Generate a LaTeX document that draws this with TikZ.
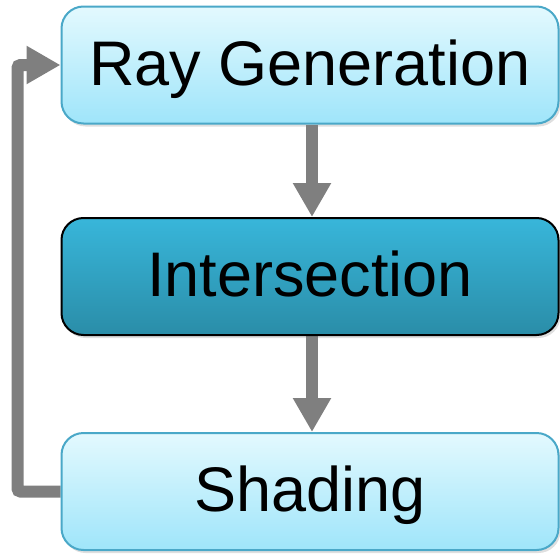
\documentclass[tikz,border=0pt]{standalone}
\usepackage{fontspec}
\setmainfont{Liberation Sans}
\usetikzlibrary{arrows.meta,shadows,backgrounds}
\definecolor{paletop}{HTML}{E3F9FE}
\definecolor{palebot}{HTML}{9FE5FA}
\definecolor{paleedge}{HTML}{4AA8C8}
\definecolor{deeptop}{HTML}{38B6DA}
\definecolor{deepbot}{HTML}{2A8DA8}
\definecolor{flowgrey}{HTML}{7F7F7F}
\tikzset{
  stage/.style={rectangle, rounded corners=22pt, minimum width=497pt, minimum height=117pt,
    line width=2pt, font=\fontsize{63}{70}\selectfont, text height=45pt, text depth=5pt,
    drop shadow={opacity=0.25, shadow xshift=2pt, shadow yshift=-3pt}},
  pale/.style={stage, draw=paleedge, top color=paletop, bottom color=palebot},
  deep/.style={stage, draw=black, top color=deeptop, bottom color=deepbot},
  flow/.style={draw=flowgrey, line width=12pt,
    -{Triangle[width=36pt,length=34pt]}}
}
\begin{document}
\begin{tikzpicture}[x=1pt,y=-1pt]
  \useasboundingbox (0,0) rectangle (560,554);
  \node[pale] (rg) at (310,65) {Ray Generation};
  \node[deep] (is) at (310,276.5) {Intersection};
  \node[pale] (sh) at (310,491.5) {Shading};
  \begin{pgfonlayer}{background}
    \draw[flow] ([xshift=2pt]rg.south) -- ([xshift=2pt]is.north);
    \draw[flow] ([xshift=2pt]is.south) -- ([xshift=2pt]sh.north);
    \draw[flow, rounded corners=3pt] (sh.west) -- ++(-43,0) |- (rg.west);
  \end{pgfonlayer}
\end{tikzpicture}
\end{document}
